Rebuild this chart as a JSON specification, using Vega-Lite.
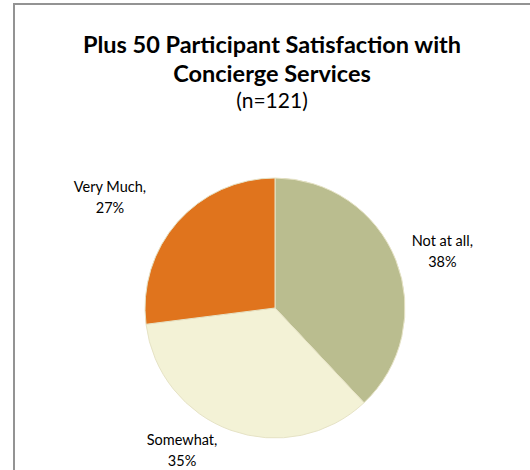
{
  "$schema": "https://vega.github.io/schema/vega-lite/v6.json",
  "autosize": "none",
  "width": 522,
  "height": 608,
  "padding": {"top": 4, "left": 14, "right": -6, "bottom": -142},
  "background": "white",
  "view": {"stroke": "#939393", "strokeWidth": 2, "fill": "white"},
  "title": {
    "text": ["Plus 50 Participant Satisfaction with", "Concierge Services"],
    "subtitle": "(n=121)",
    "font": "Lato",
    "fontSize": 23.5,
    "fontWeight": "bold",
    "color": "#000000",
    "lineHeight": 29,
    "subtitleFont": "Lato",
    "subtitleFontSize": 21,
    "subtitleColor": "#000000",
    "subtitleLineHeight": 24,
    "subtitlePadding": 5,
    "anchor": "middle",
    "frame": "group",
    "dx": -3,
    "offset": -108
  },
  "data": {
    "values": [
      {"category": "Not at all", "pct": 38, "order": 1, "label": "Not at all,\n38%"},
      {"category": "Somewhat", "pct": 35, "order": 2, "label": "Somewhat,\n35%"},
      {"category": "Very Much", "pct": 27, "order": 3, "label": "Very Much,\n27%"}
    ]
  },
  "encoding": {
    "theta": {"field": "pct", "type": "quantitative", "stack": true},
    "order": {"field": "order", "type": "quantitative"}
  },
  "layer": [
    {
      "mark": {"type": "arc", "radius": 130, "stroke": "#e6e3c6", "strokeWidth": 1},
      "encoding": {
        "color": {
          "field": "category",
          "type": "nominal",
          "scale": {"domain": ["Not at all", "Somewhat", "Very Much"], "range": ["#BABD8F", "#F3F2D6", "#E0741D"]},
          "legend": null
        }
      }
    },
    {
      "mark": {"type": "text", "radius": 180, "font": "Lato", "fontSize": 14.5, "color": "#000000", "lineBreak": "\n", "lineHeight": 21, "align": "center", "baseline": "middle"},
      "encoding": {"text": {"condition": {"test": "datum.category == 'Not at all'", "field": "label", "type": "nominal"}, "value": ""}}
    },
    {
      "mark": {"type": "text", "radius": 180, "dx": -30, "dy": -1, "font": "Lato", "fontSize": 14.5, "color": "#000000", "lineBreak": "\n", "lineHeight": 21, "align": "center", "baseline": "middle"},
      "encoding": {"text": {"condition": {"test": "datum.category == 'Very Much'", "field": "label", "type": "nominal"}, "value": ""}}
    },
    {
      "mark": {"type": "text", "radius": 180, "dx": -32, "dy": -36, "font": "Lato", "fontSize": 14.5, "color": "#000000", "lineBreak": "\n", "lineHeight": 21, "align": "center", "baseline": "middle"},
      "encoding": {"text": {"condition": {"test": "datum.category == 'Somewhat'", "field": "label", "type": "nominal"}, "value": ""}}
    }
  ]
}
